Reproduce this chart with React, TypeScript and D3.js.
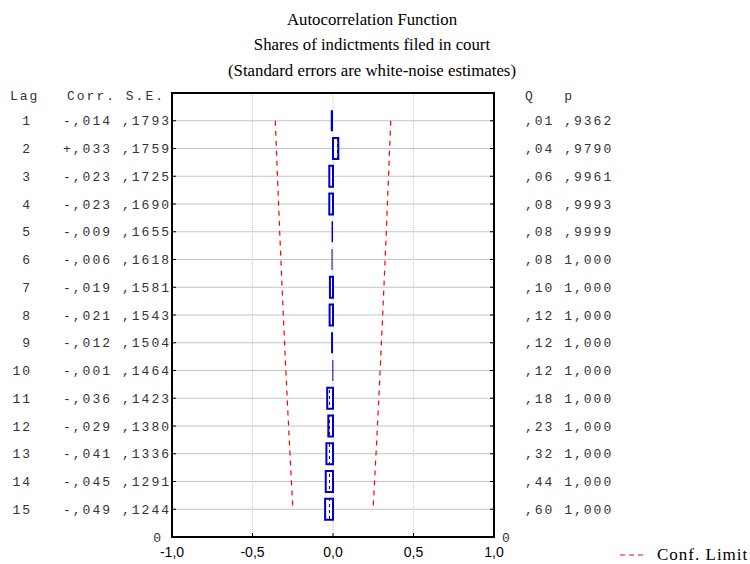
import React from "react";
import * as d3 from "d3";

const lags = [1, 2, 3, 4, 5, 6, 7, 8, 9, 10, 11, 12, 13, 14, 15];
const corr = [-0.014, 0.033, -0.023, -0.023, -0.009, -0.006, -0.019, -0.021, -0.012, -0.001, -0.036, -0.029, -0.041, -0.045, -0.049];
const se = [0.1793, 0.1759, 0.1725, 0.169, 0.1655, 0.1618, 0.1581, 0.1543, 0.1504, 0.1464, 0.1423, 0.138, 0.1336, 0.1291, 0.1244];
const qLabels = [",01", ",04", ",06", ",08", ",08", ",08", ",10", ",12", ",12", ",12", ",18", ",23", ",32", ",44", ",60"];
const pLabels = [",9362", ",9790", ",9961", ",9993", ",9999", "1,000", "1,000", "1,000", "1,000", "1,000", "1,000", "1,000", "1,000", "1,000", "1,000"];
const xTicks = [-1, -0.5, 0, 0.5, 1];
const xTickLabels = ["-1,0", "-0,5", "0,0", "0,5", "1,0"];
const titleLines = [
  "Autocorrelation Function",
  "Shares of indictments filed in court",
  "(Standard errors are white-noise estimates)",
];

const W = 750;
const H = 564;
const L = 172, R = 494, T = 93, B = 537;

const fmtCorr = (v: number) => {
  const s = v < 0 ? "-" : "+";
  return s + "," + String(Math.round(Math.abs(v) * 1000)).padStart(3, "0");
};
const fmtSE = (v: number) => "," + String(Math.round(v * 10000)).padStart(4, "0");

export default function App() {
  const x = d3.scaleLinear().domain([-1, 1]).range([L, R]);
  const y = d3.scaleLinear().domain([0, 16]).range([T, B]);
  const barH = 21;
  const mono = "'Liberation Mono', 'Courier New', monospace";
  const monoStyle: React.CSSProperties = { whiteSpace: "pre", letterSpacing: "2px" };

  const confLine = d3
    .line<number>()
    .x((d) => d)
    .y((_, i) => y(lags[i]));
  const leftPts = se.map((s) => x(-2 * s));
  const rightPts = se.map((s) => x(2 * s));

  return (
    <svg width={W} height={H} style={{ position: "absolute", left: 0, top: 0, background: "#fff" }}>
      <defs>
        <pattern id="hatch" width="4" height="6" patternUnits="userSpaceOnUse">
          <rect width="4" height="6" fill="#fff" />
          <rect x="1" y="0" width="1" height="3" fill="#0000CC" />
        </pattern>
      </defs>
      {/* title */}
      {titleLines.map((t, i) => (
        <text key={i} x={372} y={24.5 + i * 25.5} textAnchor="middle" fontFamily="'Liberation Serif', 'Times New Roman', serif" fontSize={16.8} fill="#000">
          {t}
        </text>
      ))}
      {/* grid */}
      {lags.map((l) => (
        <line key={"h" + l} x1={L} x2={R} y1={y(l)} y2={y(l)} stroke="#c4c4c4" strokeWidth={1} />
      ))}
      {[-0.5, 0, 0.5].map((v) => (
        <line key={"v" + v} x1={x(v)} x2={x(v)} y1={T} y2={B} stroke="#cccccc" strokeWidth={1} strokeDasharray="1,1" />
      ))}
      {/* bars */}
      {corr.map((c, i) => {
        const x0 = Math.min(x(0), x(c));
        const w = Math.abs(x(c) - x(0));
        const yc = y(lags[i]);
        if (w < 2.5) {
          return (
            <rect key={"b" + i} x={x0 - (w < 1 ? 0.5 : 0)} y={yc - barH / 2} width={Math.max(w, 1)} height={barH} fill="#0000CC" />
          );
        }
        return (
          <rect key={"b" + i} x={x0} y={yc - barH / 2} width={w} height={barH} fill="url(#hatch)" stroke="#0000CC" strokeWidth={2} />
        );
      })}
      {/* confidence limits */}
      <path d={confLine(leftPts) || ""} fill="none" stroke="#FF0000" strokeWidth={1.2} strokeDasharray="5,5" />
      <path d={confLine(rightPts) || ""} fill="none" stroke="#FF0000" strokeWidth={1.2} strokeDasharray="5,5" />
      {/* frame */}
      <rect x={L} y={T} width={R - L} height={B - T} fill="none" stroke="#000" strokeWidth={2} />
      {/* ticks */}
      {lags.map((l) => (
        <g key={"t" + l}>
          <line x1={L} x2={L + 4} y1={y(l)} y2={y(l)} stroke="#000" strokeWidth={1} />
          <line x1={R - 4} x2={R} y1={y(l)} y2={y(l)} stroke="#000" strokeWidth={1} />
        </g>
      ))}
      {xTicks.map((v, i) => (
        <g key={"xt" + i}>
          <line x1={x(v)} x2={x(v)} y1={B} y2={B - 4} stroke="#000" strokeWidth={1} />
          <text x={x(v)} y={557} textAnchor="middle" fontFamily="'Liberation Sans', Arial, sans-serif" fontSize={14} fill="#000">
            {xTickLabels[i]}
          </text>
        </g>
      ))}
      {/* left table */}
      <g fontFamily={mono} fontSize={13} fill="#333">
        <text x={10} y={100} style={monoStyle}>Lag</text>
        <text x={67} y={100} style={monoStyle}>Corr. S.E.</text>
        {lags.map((l, i) => (
          <g key={"lt" + l}>
            <text x={32} y={y(l) + 4.5} textAnchor="end" style={monoStyle}>{String(l)}</text>
            <text x={112} y={y(l) + 4.5} textAnchor="end" style={monoStyle}>{fmtCorr(corr[i])}</text>
            <text x={171} y={y(l) + 4.5} textAnchor="end" style={monoStyle}>{fmtSE(se[i])}</text>
          </g>
        ))}
        <text x={163} y={y(16) + 4.5} textAnchor="end" style={monoStyle}>0</text>
        <text x={525} y={100} style={monoStyle}>Q   p</text>
        {lags.map((l, i) => (
          <text key={"rt" + l} x={525} y={y(l) + 4.5} style={monoStyle}>
            {qLabels[i] + " " + pLabels[i]}
          </text>
        ))}
        <text x={502} y={y(16) + 4.5} style={monoStyle}>0</text>
      </g>
      {/* legend */}
      <line x1={620} x2={647} y1={555} y2={555} stroke="#FF0000" strokeWidth={1.2} strokeDasharray="5,4" />
      <text x={657} y={560} fontFamily="'Liberation Serif', 'Times New Roman', serif" fontSize={17} letterSpacing={1} fill="#000">
        Conf. Limit
      </text>
    </svg>
  );
}
